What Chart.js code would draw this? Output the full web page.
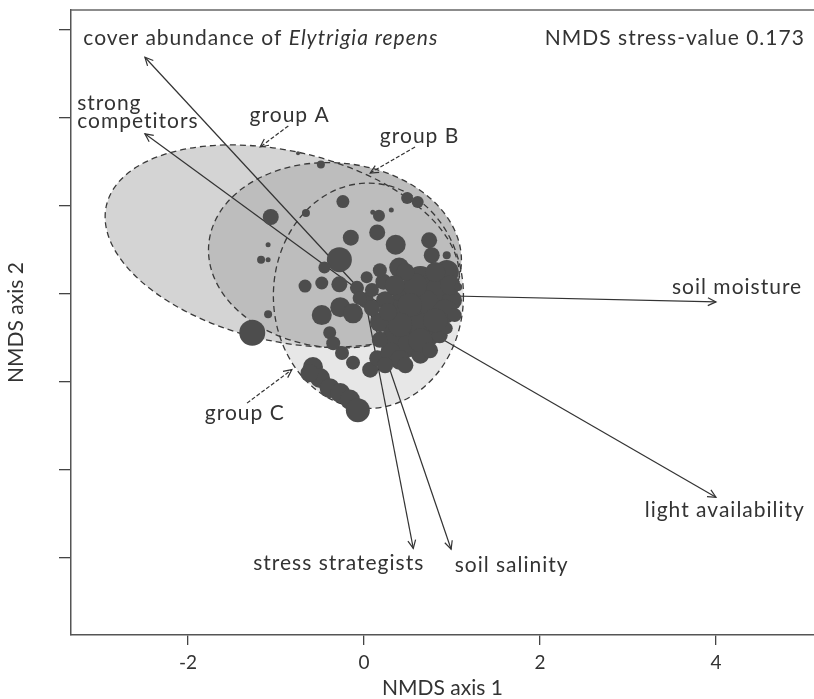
<!DOCTYPE html>
<html>
<head>
<meta charset="utf-8">
<script src="https://cdn.jsdelivr.net/npm/chart.js@4/dist/chart.umd.min.js"></script>
<style>
  html, body { margin: 0; padding: 0; background: #fff; }
  #wrap { width: 814px; height: 699px; position: relative; }
</style>
</head>
<body>
<div id="wrap"><canvas id="nmds"></canvas></div>
<script>
// NMDS site scores
const siteAxis1 = [-0.75, -0.49, -0.24, -0.66, -1.06, 0.10, 0.17, 0.31, 0.49, 0.61,
  0.15, -0.15, 0.36, 0.74, 0.77, 0.94, -1.09, -1.17, -1.09, -0.28,
  -0.45, 0.40, 0.94, -0.67, -0.48, -0.28, -0.08, 0.03, 0.22, -1.09,
  -1.27, -0.48, -0.27, -0.125, -0.39, -0.35, -0.25, -0.125, 0.07, 0.15,
  -0.58, -0.50, -0.39, -0.27, -0.16, -0.07, 0.64, 0.86, 1.00, 0.47,
  0.69, 0.92, 0.52, 0.70, 0.35, 0.24, 0.18, 0.35, 0.52, 0.30,
  0.41, 0.58, 0.81, 0.98, 1.03, 0.86, 0.02, 0.09, 0.24, 0.18,
  0.94, 0.64, 0.47, 1.07, 0.35, 0.52, 0.81, 0.41, 0.64, 0.18,
  0.27, 0.09, 0.75, 0.47, -0.05, -0.62];
const siteAxis2 = [1.60, 1.47, 1.05, 0.92, 0.875, 0.93, 0.89, 0.955, 1.09, 1.045,
  0.70, 0.64, 0.56, 0.61, 0.44, 0.44, 0.56, 0.39, 0.39, 0.39,
  0.30, 0.30, 0.25, 0.09, 0.125, 0.11, 0.07, 0.19, 0.14, -0.23,
  -0.44, -0.24, -0.15, -0.22, -0.44, -0.56, -0.67, -0.78, -0.86, -0.73,
  -0.83, -0.955, -1.07, -1.125, -1.20, -1.32, 0.16, 0.045, -0.07, -0.01,
  -0.125, -0.20, -0.30, -0.41, -0.18, -0.07, -0.32, -0.47, -0.58, -0.66,
  -0.75, 0.10, 0.25, 0.10, -0.24, -0.47, -0.07, 0.045, -0.81, 0.27,
  -0.39, -0.69, 0.25, 0.08, 0.10, -0.125, -0.30, -0.35, -0.525, -0.52,
  -0.205, -0.16, -0.64, -0.81, -0.045, -0.90];
// bubble size (cover)
const siteSize = [2, 4, 6.5, 4, 8, 2.5, 6, 2.5, 6, 6,
  8, 8, 10, 8, 8, 4, 2.5, 4, 2.5, 12.5,
  6, 10, 12, 6.5, 6.5, 8, 7, 6, 8, 4,
  13, 10, 10, 10, 6.5, 7, 7, 7, 8, 8,
  10, 10, 10, 10, 10, 12, 14, 14, 10, 13,
  15, 12, 14, 17, 10, 9, 10, 12, 12, 10,
  10, 12, 10, 10, 7, 8, 8, 7, 8, 7,
  6, 9, 9, 4, 10, 12, 12, 12, 12, 8,
  9, 8, 8, 8, 7, 9];

// fitted vectors (envfit)
const vectorNames = ['cover abundance of Elytrigia repens', 'strong competitors', 'soil moisture',
  'light availability', 'stress strategists', 'soil salinity'];
const vectorAxis1 = [-2.49, -2.49, 4.00, 4.00, 0.56, 0.99];
const vectorAxis2 = [2.69, 1.82, -0.09, -2.31, -2.89, -2.90];

// group dispersion ellipses
const groupNames = ['group A', 'group B', 'group C'];
const ellipseCentre1 = [-0.93, -0.33, 0.05];
const ellipseCentre2 = [0.545, 0.44, -0.02];
const ellipseRadius1 = [2.05, 1.44, 1.08];
const ellipseRadius2 = [1.08, 1.05, 1.28];
const ellipseAngle = [-13, -5, 0];

const xTickValues = [-2, 0, 2, 4];
const yTickValues = [-3, -2, -1, 0, 1, 2, 3];
const stressValue = 0.173;

// where the annotations sit (axis units)
const FONT = 'Lato, "Open Sans", sans-serif';
const TEXT_SIZE = 21;
const TEXT_SPACING = '1px';
const vectorLabelAnchors = [
  { x: -3.19, y: 2.83, align: 'left', parts: [['cover abundance of ', false], ['Elytrigia repens', true]] },
  { x: -3.26, y: 2.09, align: 'left', lines: ['strong', 'competitors'] },
  { x: 4.98, y: 0.0, align: 'right' },
  { x: 3.19, y: -2.53, align: 'left' },
  { x: -1.26, y: -3.14, align: 'left' },
  { x: 1.03, y: -3.16, align: 'left' }
];
const groupLabelAnchors = [
  { x: -1.30, y: 1.955, fromX: -0.86, fromY: 1.91, toX: -1.18, toY: 1.67 },
  { x: 0.18, y: 1.72, fromX: 0.58, fromY: 1.67, toX: 0.07, toY: 1.375 },
  { x: -1.81, y: -1.43, fromX: -1.33, fromY: -1.24, toX: -0.82, toY: -0.86 }
];

const ellipseFill = ['#d4d4d4', '#bdbdbd', '#e7e7e7'];
const ellipseDrawOrder = [2, 0, 1];

function arrowHead(ctx, x0, y0, x1, y1, len, spread) {
  const a = Math.atan2(y1 - y0, x1 - x0);
  ctx.beginPath();
  ctx.moveTo(x1 - len * Math.cos(a - spread), y1 - len * Math.sin(a - spread));
  ctx.lineTo(x1, y1);
  ctx.lineTo(x1 - len * Math.cos(a + spread), y1 - len * Math.sin(a + spread));
  ctx.stroke();
}

const ordinationDecor = {
  id: 'ordinationDecor',
  beforeDatasetsDraw(chart) {
    const { ctx, scales: { x, y } } = chart;
    const ux = x.getPixelForValue(1) - x.getPixelForValue(0);
    const uy = y.getPixelForValue(0) - y.getPixelForValue(1);
    const paths = groupNames.map((g, i) => {
      const cx = x.getPixelForValue(ellipseCentre1[i]);
      const cy = y.getPixelForValue(ellipseCentre2[i]);
      return [cx, cy, ellipseRadius1[i] * ux, ellipseRadius2[i] * uy, -ellipseAngle[i] * Math.PI / 180];
    });
    ctx.save();
    ellipseDrawOrder.forEach(i => {
      const p = paths[i];
      ctx.beginPath();
      ctx.ellipse(p[0], p[1], p[2], p[3], p[4], 0, Math.PI * 2);
      ctx.fillStyle = ellipseFill[i];
      ctx.fill();
    });
    ctx.setLineDash([6, 4]);
    ctx.lineWidth = 1.3;
    ctx.strokeStyle = '#3a3a3a';
    ellipseDrawOrder.forEach(i => {
      const p = paths[i];
      ctx.beginPath();
      ctx.ellipse(p[0], p[1], p[2], p[3], p[4], 0, Math.PI * 2);
      ctx.stroke();
    });
    ctx.restore();
  },
  afterDatasetsDraw(chart) {
    const { ctx, scales: { x, y }, chartArea } = chart;
    ctx.save();
    // vector arrow heads
    ctx.strokeStyle = '#333';
    ctx.lineWidth = 1.2;
    vectorNames.forEach((n, i) => {
      arrowHead(ctx, x.getPixelForValue(0), y.getPixelForValue(0),
        x.getPixelForValue(vectorAxis1[i]), y.getPixelForValue(vectorAxis2[i]), 9, Math.PI / 7);
    });
    // group pointers
    groupLabelAnchors.forEach(g => {
      const x0 = x.getPixelForValue(g.fromX), y0 = y.getPixelForValue(g.fromY);
      const x1 = x.getPixelForValue(g.toX), y1 = y.getPixelForValue(g.toY);
      ctx.setLineDash([4, 2]);
      ctx.beginPath(); ctx.moveTo(x0, y0); ctx.lineTo(x1, y1); ctx.stroke();
      ctx.setLineDash([]);
      arrowHead(ctx, x0, y0, x1, y1, 9, Math.PI / 7);
    });
    // text
    ctx.fillStyle = '#333';
    ctx.textBaseline = 'alphabetic';
    ctx.letterSpacing = TEXT_SPACING;
    const plain = `${TEXT_SIZE}px ${FONT}`;
    const italic = `italic ${TEXT_SIZE}px ${FONT}`;
    vectorNames.forEach((n, i) => {
      const a = vectorLabelAnchors[i];
      const px = x.getPixelForValue(a.x), py = y.getPixelForValue(a.y);
      ctx.textAlign = 'left';
      if (a.parts) {
        let cx = px;
        a.parts.forEach(([t, it]) => {
          ctx.font = it ? italic : plain;
          ctx.fillText(t, cx, py);
          cx += ctx.measureText(t).width;
        });
      } else if (a.lines) {
        ctx.font = plain;
        a.lines.forEach((t, k) => ctx.fillText(t, px, py + k * 18));
      } else {
        ctx.font = plain;
        ctx.textAlign = a.align;
        ctx.fillText(n, px, py);
      }
    });
    ctx.font = plain;
    ctx.textAlign = 'left';
    groupNames.forEach((g, i) => {
      const a = groupLabelAnchors[i];
      ctx.fillText(g, x.getPixelForValue(a.x), y.getPixelForValue(a.y));
    });
    ctx.textAlign = 'right';
    ctx.fillText('NMDS stress-value ' + stressValue.toFixed(3), x.getPixelForValue(5.01), y.getPixelForValue(2.83));
    ctx.letterSpacing = '0px';
    // frame top edge
    ctx.strokeStyle = '#666';
    ctx.lineWidth = 1.5;
    ctx.beginPath();
    ctx.moveTo(chartArea.left, chartArea.top);
    ctx.lineTo(chartArea.right, chartArea.top);
    ctx.stroke();
    ctx.restore();
  }
};

const datasets = [{
  type: 'bubble',
  data: siteAxis1.map((v, i) => ({ x: v, y: siteAxis2[i], r: siteSize[i] })),
  backgroundColor: '#4d4d4d',
  borderWidth: 0,
  hoverRadius: 0,
  order: 0
}];
vectorNames.forEach((n, i) => {
  datasets.push({
    type: 'line',
    label: n,
    data: [{ x: 0, y: 0 }, { x: vectorAxis1[i], y: vectorAxis2[i] }],
    borderColor: '#333',
    borderWidth: 1.2,
    pointRadius: 0,
    fill: false,
    order: 1
  });
});

new Chart(document.getElementById('nmds'), {
  type: 'bubble',
  data: { datasets },
  options: {
    responsive: true,
    maintainAspectRatio: false,
    animation: false,
    events: [],
    layout: { autoPadding: false, padding: { top: 10, right: 0, bottom: 0, left: 0 } },
    plugins: { legend: { display: false }, tooltip: { enabled: false } },
    scales: {
      x: {
        type: 'linear',
        min: -3.33,
        max: 5.114,
        afterBuildTicks: s => { s.ticks = xTickValues.map(v => ({ value: v })); },
        afterFit: s => { s.height = 64; },
        grid: { drawOnChartArea: false, drawTicks: true, tickLength: 10, color: '#444', lineWidth: 1.3 },
        border: { display: true, color: '#555', width: 1.5 },
        ticks: { color: '#333', font: { family: FONT, size: 19 }, padding: 6, maxRotation: 0 },
        title: { display: true, text: 'NMDS axis 1', color: '#333', font: { family: FONT, size: 21, lineHeight: 1 }, padding: { top: 0, bottom: 0 } }
      },
      y: {
        type: 'linear',
        min: -3.875,
        max: 3.227,
        afterBuildTicks: s => { s.ticks = yTickValues.map(v => ({ value: v })); },
        afterFit: s => { s.width = 71; },
        grid: { drawOnChartArea: false, drawTicks: true, tickLength: 12, color: '#444', lineWidth: 1.3 },
        border: { display: true, color: '#555', width: 1.5 },
        ticks: { display: false },
        title: { display: true, text: 'NMDS axis 2', color: '#333', font: { family: FONT, size: 21, lineHeight: 1 }, padding: { top: 6, bottom: 0 } }
      }
    }
  },
  plugins: [ordinationDecor]
});
</script>
</body>
</html>
